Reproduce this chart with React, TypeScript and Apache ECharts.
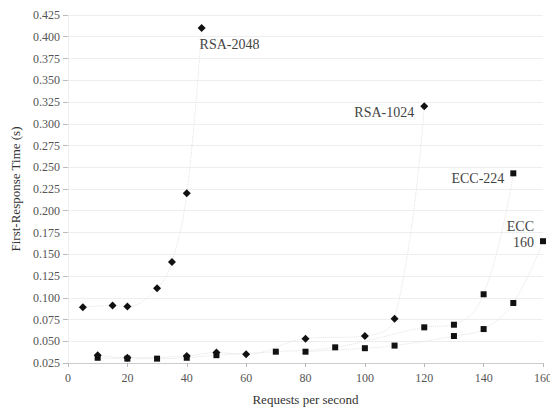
import React, { useEffect, useRef } from "react";
import * as echarts from "echarts";

const rsa2048X = [5, 15, 20, 30, 35, 40, 45];
const rsa2048Y = [0.089, 0.091, 0.090, 0.111, 0.141, 0.220, 0.410];
const rsa1024X = [10, 20, 40, 50, 60, 80, 100, 110, 120];
const rsa1024Y = [0.034, 0.031, 0.033, 0.037, 0.035, 0.053, 0.056, 0.076, 0.320];
const ecc224X = [10, 20, 30, 40, 50, 70, 90, 120, 130, 140, 150];
const ecc224Y = [0.031, 0.030, 0.030, 0.031, 0.034, 0.038, 0.043, 0.066, 0.069, 0.104, 0.243];
const ecc160X = [80, 100, 110, 130, 140, 150, 160];
const ecc160Y = [0.038, 0.042, 0.045, 0.056, 0.064, 0.094, 0.165];

const seriesNames = ["RSA-2048", "RSA-1024", "ECC-224", "ECC\n160"];
const xTicks = [0, 20, 40, 60, 80, 100, 120, 140, 160];
const yTicks = [0.025, 0.05, 0.075, 0.1, 0.125, 0.15, 0.175, 0.2, 0.225, 0.25, 0.275, 0.3, 0.325, 0.35, 0.375, 0.4, 0.425];

const FONT = "Liberation Serif";

function zip(xs: number[], ys: number[]) {
  return xs.map((x, i) => [x, ys[i]]);
}

export default function App() {
  const ref = useRef<HTMLDivElement>(null);
  useEffect(() => {
    if (!ref.current) return;
    const chart = echarts.init(ref.current, undefined, { renderer: "svg" });
    const mk = (
      name: string,
      xs: number[],
      ys: number[],
      symbol: string,
      size: number,
      labelPos: any,
      labelAlign: string
    ) => {
      const data: any[] = zip(xs, ys);
      const last = data.length - 1;
      data[last] = {
        value: data[last],
        label: {
          show: true,
          formatter: name,
          position: labelPos,
          align: labelAlign,
          fontFamily: FONT,
          fontSize: 14,
          color: "#444",
          lineHeight: 16,
        },
      };
      return {
        type: "line",
        name,
        data,
        smooth: 0.4,
        symbol,
        symbolSize: size,
        showSymbol: true,
        itemStyle: { color: "#111" },
        lineStyle: { color: "#e2e2e2", width: 1, type: "dotted" },
      };
    };
    chart.setOption({
      animation: false,
      backgroundColor: "#fff",
      grid: { left: 68, right: 7, top: 15, bottom: 46, outerBoundsMode: "none", containLabel: false },
      xAxis: {
        type: "value",
        min: 0,
        max: 160,
        interval: 20,
        name: "Requests per second",
        nameLocation: "middle",
        nameGap: 30,
        nameTextStyle: { fontFamily: FONT, fontSize: 13, color: "#333" },
        axisLine: { show: true, lineStyle: { color: "#ccc" } },
        axisTick: { show: true, length: 4, lineStyle: { color: "#bbb" } },
        axisLabel: {
          fontFamily: FONT,
          fontSize: 12,
          color: "#555",
          margin: 9,
          hideOverlap: false,
          formatter: (v: number) => (xTicks.includes(v) ? String(v) : ""),
        },
        splitLine: { show: false },
      },
      yAxis: {
        type: "value",
        min: 0.025,
        max: 0.425,
        interval: 0.025,
        name: "First-Response Time (s)",
        nameLocation: "middle",
        nameGap: 46,
        nameTextStyle: { fontFamily: FONT, fontSize: 13, color: "#333" },
        axisLine: { show: true, lineStyle: { color: "#eee" } },
        axisTick: { show: true, length: 5, lineStyle: { color: "#bbb" } },
        axisLabel: {
          fontFamily: FONT,
          fontSize: 12,
          color: "#555",
          margin: 8,
          formatter: (v: number) => {
            const t = yTicks.find((y) => Math.abs(y - v) < 1e-9);
            return t !== undefined ? t.toFixed(3) : "";
          },
        },
        splitLine: { show: true, lineStyle: { color: "#eeeeee" } },
      },
      series: [
        mk(seriesNames[0], rsa2048X, rsa2048Y, "diamond", 8, [2, 12], "left"),
        mk(seriesNames[1], rsa1024X, rsa1024Y, "diamond", 8, [-6, 2], "right"),
        mk(seriesNames[2], ecc224X, ecc224Y, "rect", 6, [-6, 0], "right"),
        mk(seriesNames[3], ecc160X, ecc160Y, "rect", 6, [-6, -20], "right"),
      ],
    });
    return () => chart.dispose();
  }, []);
  return (
    <div
      ref={ref}
      style={{ position: "fixed", left: 0, top: 0, width: 550, height: 409 }}
    />
  );
}
